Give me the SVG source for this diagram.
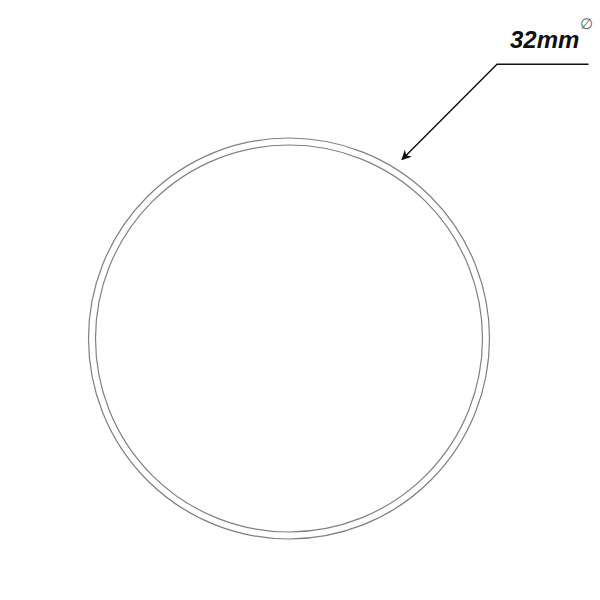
<svg xmlns="http://www.w3.org/2000/svg" width="600" height="600" viewBox="0 0 600 600">
<style>
.ring{fill:none;stroke:#808080;stroke-width:1.2}
.lead{fill:none;stroke:#111;stroke-width:1.4}
.dim{font-family:"Liberation Sans",Arial,sans-serif;font-weight:bold;font-style:italic;font-size:24px;fill:#111}
.dia{font-family:"DejaVu Sans","Liberation Sans",sans-serif;font-size:15px;fill:#666}
</style>
<defs>
<marker id="ah" viewBox="0 0 10 10" refX="9" refY="5" markerWidth="10" markerHeight="10" markerUnits="userSpaceOnUse" orient="auto">
<path d="M0,0 L10,5 L0,10 L3,5 Z" fill="#111"/>
</marker>
</defs>
<rect width="600" height="600" fill="#fff"/>
<g id="ring">
<circle class="ring" cx="289" cy="338.5" r="200.5"/>
<circle class="ring" cx="289" cy="338.5" r="193.5"/>
</g>
<g id="connectors">
<path class="lead" d="M588.5,64.3 L497,64.3 L402,159.5" marker-end="url(#ah)"/>
</g>
<g id="label">
<text class="dim" x="510" y="48">32mm</text>
<text class="dia" x="580" y="29">∅</text>
</g>
</svg>
